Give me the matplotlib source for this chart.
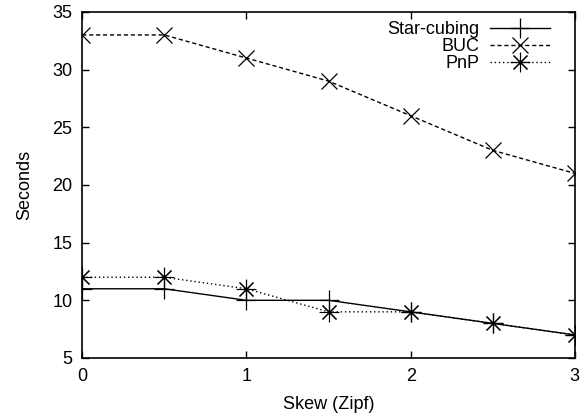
import matplotlib
matplotlib.use('Agg')
import matplotlib.pyplot as plt

# skew values and runtimes (seconds)
skew = [0, 0.5, 1, 1.5, 2, 2.5, 3]
star_cubing = [11, 11, 10, 10, 9, 8, 7]
buc = [33, 33, 31, 29, 26, 23, 21]
pnp = [12, 12, 11, 9, 9, 8, 7]

plt.rcParams['font.family'] = ['Liberation Sans', 'DejaVu Sans']
plt.rcParams['font.size'] = 13

fig = plt.figure(figsize=(5.83, 4.17), dpi=100)
ax = fig.add_axes([0.141, 0.1415, 0.845, 0.83])

ax.plot(skew, star_cubing, color='black', lw=1, marker='+', ms=14, mew=0.9,
        label='Star-cubing')
ax.plot(skew, buc, color='black', lw=1, ls=(0, (3, 2)), marker='x', ms=11, mew=0.9,
        label='BUC')
ax.plot(skew, pnp, color='black', lw=1, ls=(0, (1, 2)), marker=(8, 2, 0), ms=14, mew=0.8,
        label='PnP')

ax.set_xlim(0, 3)
ax.set_ylim(5, 35)
ax.set_xticks([0, 1, 2, 3])
ax.set_yticks([5, 10, 15, 20, 25, 30, 35])
ax.tick_params(direction='in', top=True, right=True, length=5, width=1, pad=7)
for s in ax.spines.values():
    s.set_linewidth(1.2)

ax.set_xlabel('Skew (Zipf)', labelpad=8)
ax.set_ylabel('Seconds', labelpad=14)

ax.legend(loc='upper right', bbox_to_anchor=(0.975, 1.01), frameon=False,
          markerfirst=False, handlelength=3.3, handletextpad=0.6,
          labelspacing=0.0, borderpad=0.2)

fig.savefig('out.png', dpi=100)
